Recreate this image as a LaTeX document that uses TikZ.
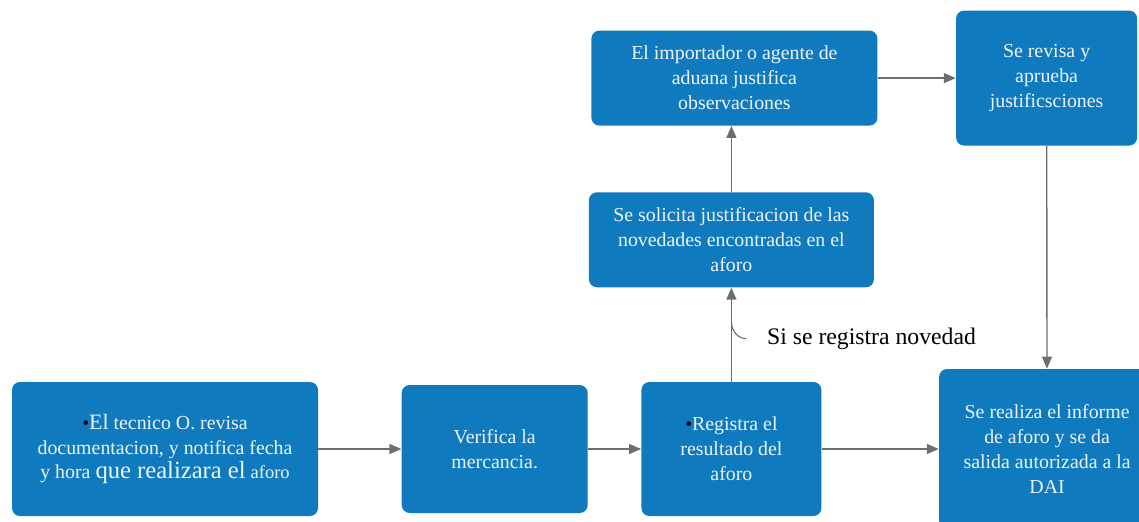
\documentclass[tikz,border=0pt]{standalone}
\usepackage{fontspec}
\setmainfont{Liberation Serif}
\usetikzlibrary{arrows.meta}
\usetikzlibrary{positioning}

\definecolor{cajaazul}{HTML}{0F7ABD}
\definecolor{textocaja}{HTML}{EEF3F9}
\definecolor{flechagris}{HTML}{6E6E6E}

\tikzset{
  paso/.style={rectangle, rounded corners=0.16cm, fill=cajaazul, text=textocaja,
    align=center, inner sep=0pt, font=\fontsize{11.3}{14.2}\selectfont},
  flecha/.style={draw=flechagris, line width=0.028cm, -{Triangle[length=0.24cm, width=0.2cm]}},
  nota/.style={font=\fontsize{13.5}{16}\selectfont, text=black, inner sep=0pt},
  guia/.style={draw=flechagris, line width=0.022cm}
}

\newcommand{\punto}{\smash{\color{black}\fontsize{11}{11}\selectfont\textbullet}}

\begin{document}
\begin{tikzpicture}
  \useasboundingbox (0,0) rectangle (22.78,-10.42);
  \clip (0,0) rectangle (22.78,-10.42);

  \node[paso, minimum width=6.12cm, minimum height=2.68cm] (Tecnico) at (3.3,-8.98)
    {\punto{\fontsize{12.5}{14.2}\selectfont El} tecnico O. revisa\\
     documentacion, y notifica fecha\\
     y hora {\fontsize{14}{14.2}\selectfont que realizara el} {\fontsize{10.5}{14.2}\selectfont aforo}};
  \node[paso, minimum width=3.72cm, minimum height=2.56cm] (Verifica) [right=1.66cm of Tecnico]
    {Verifica la\\ mercancia.};
  \node[paso, minimum width=3.6cm, minimum height=2.68cm] (Registra) [right=1.06cm of Verifica]
    {\punto Registra el\\ resultado del\\ aforo};
  \node[paso, minimum width=4.32cm, minimum height=3.2cm] (Informe) [right=2.34cm of Registra]
    {Se realiza el informe\\ de aforo y se da\\ salida autorizada a la\\ DAI};
  \node[paso, minimum width=5.7cm, minimum height=1.9cm] (Solicita) [above=1.88cm of Registra]
    {Se solicita justificacion de las\\ novedades encontradas en el\\ aforo};
  \node[paso, minimum width=5.72cm, minimum height=1.9cm] (Importador) [above=1.32cm of Solicita, xshift=0.06cm]
    {El importador o agente de\\ aduana justifica\\ observaciones};
  \node[paso, minimum width=3.62cm, minimum height=2.7cm] (Revisa) [right=1.56cm of Importador]
    {Se revisa y\\ aprueba\\ justificsciones};

  \draw[flecha] (Tecnico) -- (Verifica);
  \draw[flecha] (Verifica) -- (Registra);
  \draw[flecha] (Registra) -- (Informe);
  \draw[flecha] (Registra) -- (Solicita)
    node[nota, midway, right=0.7cm, yshift=-0.08cm] (Novedad) {Si se registra novedad};
  \draw[flecha] (Solicita.north) -- (Solicita.north |- Importador.south);
  \draw[flecha] (Importador) -- (Revisa);
  \draw[flecha] (Revisa) -- (Informe);

  \coordinate (Gancho) at ([xshift=-0.4cm]Novedad.west);
  \draw[guia] (Gancho) to[out=180, in=-90] ([yshift=0.34cm]Gancho -| Registra.north);
\end{tikzpicture}
\end{document}
